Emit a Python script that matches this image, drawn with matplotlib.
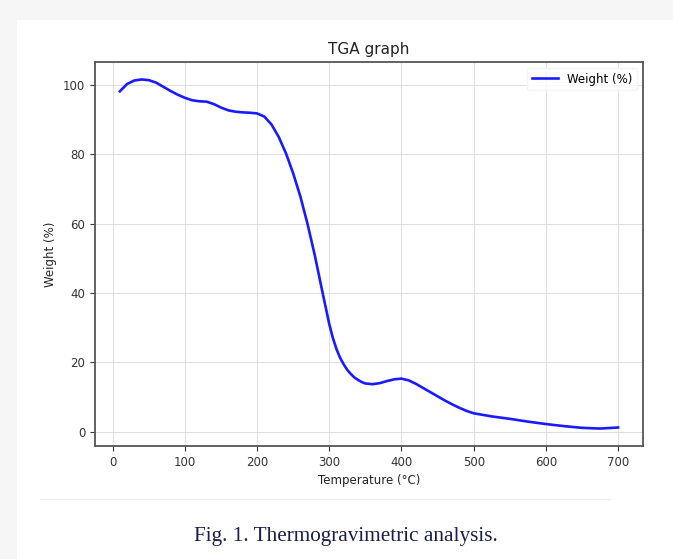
import matplotlib
matplotlib.use('Agg')
import matplotlib.pyplot as plt
from matplotlib.patches import Rectangle
from matplotlib.lines import Line2D

# 温度 (°C) 与失重 (%) 数据
temperature = [10, 20, 30, 40, 50, 60, 70, 80, 90, 100,
               110, 120, 130, 140, 150, 160, 170, 180, 190, 200,
               210, 220, 230, 240, 250, 260, 270, 280, 290, 300,
               305, 310, 315, 320, 325, 330, 335, 340, 345, 350,
               360, 370, 380, 390, 400,
               410, 420, 430, 440, 450, 460, 470, 480, 490, 500,
               525, 550, 575, 600, 625, 650, 675, 700]
weight = [98.2, 100.3, 101.3, 101.6, 101.4, 100.7, 99.5, 98.3, 97.2, 96.3,
          95.6, 95.3, 95.2, 94.5, 93.5, 92.7, 92.3, 92.1, 92.0, 91.8,
          90.9, 88.6, 85.0, 80.3, 74.5, 67.8, 59.8, 50.8, 40.8, 31.0,
          27.0, 23.8, 21.3, 19.4, 17.8, 16.6, 15.6, 14.9, 14.3, 13.9,
          13.7, 14.0, 14.6, 15.1, 15.3,
          14.8, 13.8, 12.6, 11.4, 10.2, 9.0, 7.9, 6.9, 6.0, 5.3,
          4.4, 3.7, 2.9, 2.2, 1.6, 1.1, 0.9, 1.2]

x_ticks = [0, 100, 200, 300, 400, 500, 600, 700]
y_ticks = [0, 20, 40, 60, 80, 100]

W, H = 673, 559
fig = plt.figure(figsize=(W / 100, H / 100), dpi=100, facecolor='#f6f6f6')

# 白色卡片背景（放在最底层）
fig.patches.append(Rectangle((17 / W, 0), 1 - 17 / W, (H - 20) / H,
                             transform=fig.transFigure, facecolor='white',
                             edgecolor='none', zorder=-10))
# 卡片下沿淡线
fig.lines.append(Line2D([40 / W, 610 / W], [1 - 499 / H, 1 - 499 / H],
                        transform=fig.transFigure, color='#f0f0f0', lw=1))

ax = fig.add_axes([95 / W, 1 - 446 / H, (643 - 95) / W, (446 - 62) / H])
ax.plot(temperature, weight, color='#1a1aff', lw=1.9, label='Weight (%)')

ax.set_xticks(x_ticks)
ax.set_yticks(y_ticks)
ax.tick_params(labelsize=8.5, colors='#333333', length=3.5)
ax.grid(True, color='#dddddd', lw=0.7)
for s in ax.spines.values():
    s.set_color('#555555')
    s.set_linewidth(1.3)

ax.set_title('TGA graph', fontsize=11, color='#222222')
ax.set_xlabel('Temperature (°C)', fontsize=8.5, color='#222222')
ax.set_ylabel('Weight (%)', fontsize=8.5, color='#222222')

leg = ax.legend(loc='upper right', fontsize=8.5, frameon=True, handlelength=2.2)
leg.get_frame().set_edgecolor('#f2f2f2')

fig.text(0.514, 1 - 537 / H, 'Fig. 1. Thermogravimetric analysis.',
         ha='center', va='center', fontsize=15.3, color='#1c1c4c',
         family=['Liberation Serif', 'DejaVu Serif'])

fig.savefig('out.png', dpi=100, facecolor=fig.get_facecolor())
